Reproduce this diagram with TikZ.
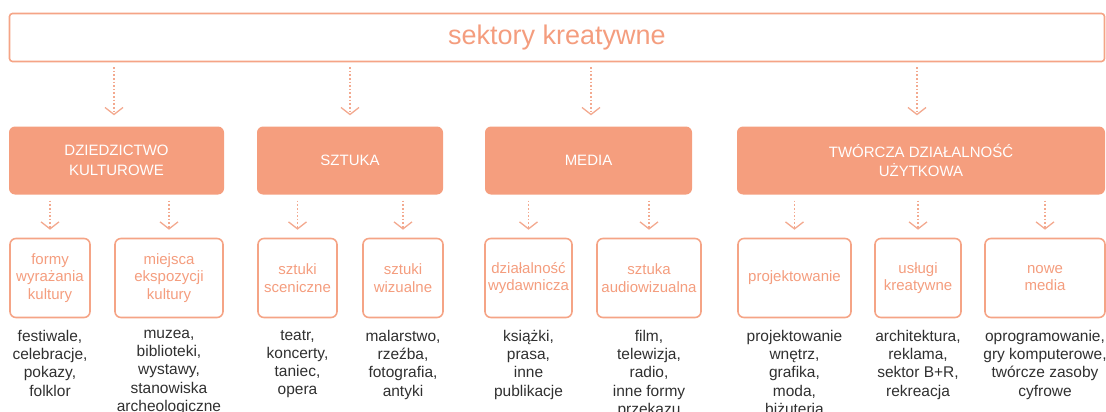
\documentclass[tikz,border=0pt]{standalone}
\usepackage{fontspec}
\setmainfont{Liberation Sans}
\usetikzlibrary{arrows.meta}
\definecolor{salm}{HTML}{F5A486}
\definecolor{salmfill}{HTML}{F59E7E}
\definecolor{salmtext}{HTML}{F49D7E}
\definecolor{arrcol}{HTML}{F3A98F}
\definecolor{desc}{HTML}{303030}
\tikzset{
  topbox/.style={draw=salm, line width=1.6pt, rounded corners=3pt, minimum height=48pt, inner sep=0pt},
  headbox/.style={fill=salmfill, draw=none, rounded corners=6pt, minimum height=68pt, inner sep=0pt, text=white, align=center, font=\fontsize{15}{19.5}\selectfont},
  subbox/.style={draw=salm, line width=1.6pt, rounded corners=6pt, minimum height=79pt, inner sep=0pt, text=salmtext, align=center, font=\fontsize{15}{17.5}\selectfont},
  desctext/.style={anchor=north, inner sep=0pt, align=center, text=desc, font=\fontsize{15.5}{18.3}\selectfont, execute at begin node=\strut},
  arr/.style={draw=arrcol, line width=1.6pt, dash pattern=on 1.6pt off 2pt, -{Straight Barb[length=7pt,width=18pt,line width=1.3pt]}}
}
\begin{document}
\begin{tikzpicture}[x=1pt,y=-1pt]
\useasboundingbox (0,0) rectangle (1106,412);
% top
\node[topbox, minimum width=1095pt, text=salmtext, font=\fontsize{27}{30}\selectfont] (top) at (557,37.5) {sektory kreatywne};
% headers
\node[headbox, minimum width=215pt] (h1) at (116.5,160.5) {DZIEDZICTWO\\KULTUROWE};
\node[headbox, minimum width=186pt] (h2) at (350,160.5) {SZTUKA};
\node[headbox, minimum width=207pt] (h3) at (588.5,160.5) {MEDIA};
\node[headbox, minimum width=368pt] (h4) at (921,160.5) {TWÓRCZA DZIAŁALNOŚĆ\\UŻYTKOWA};
% top arrows
\coordinate (a1) at (114,0);
\coordinate (a2) at (350,0);
\coordinate (a3) at (591,0);
\coordinate (a4) at (917,0);
\foreach \i in {1,2,3,4}{
  \draw[arr] ([yshift=-5pt]top.south -| a\i) -- ([yshift=11pt]h\i.north -| a\i);
}
% sub boxes
\node[subbox, minimum width=80pt] (s1) at (50,278) {formy\\wyrażania\\kultury};
\node[subbox, minimum width=108pt] (s2) at (169,278) {miejsca\\ekspozycji\\kultury};
\node[subbox, minimum width=79pt] (s3) at (297.5,278) {sztuki\\sceniczne};
\node[subbox, minimum width=80pt] (s4) at (403,278) {sztuki\\wizualne};
\node[subbox, minimum width=87pt] (s5) at (528.5,278) {działalność\\wydawnicza};
\node[subbox, minimum width=104pt] (s6) at (649,278) {sztuka\\audiowizualna};
\node[subbox, minimum width=113pt] (s7) at (794.5,278) {projektowanie};
\node[subbox, minimum width=86pt] (s8) at (918,278) {usługi\\kreatywne};
\node[subbox, minimum width=120pt] (s9) at (1045,278) {nowe\\media};
% sub arrows
\draw[arr] (h1.south -| s1) ++(0,6) -- ([yshift=8pt]s1.north);
\draw[arr] (h1.south -| s2) ++(0,6) -- ([yshift=8pt]s2.north);
\draw[arr] (h2.south -| s3) ++(0,6) -- ([yshift=8pt]s3.north);
\draw[arr] (h2.south -| s4) ++(0,6) -- ([yshift=8pt]s4.north);
\draw[arr] (h3.south -| s5) ++(0,6) -- ([yshift=8pt]s5.north);
\draw[arr] (h3.south -| s6) ++(0,6) -- ([yshift=8pt]s6.north);
\draw[arr] (h4.south -| s7) ++(0,6) -- ([yshift=8pt]s7.north);
\draw[arr] (h4.south -| s8) ++(0,6) -- ([yshift=8pt]s8.north);
\draw[arr] (h4.south -| s9) ++(0,6) -- ([yshift=8pt]s9.north);
% descriptions
\node[desctext] (d1) at ([yshift=-11.5pt]s1.south) {festiwale,\\celebracje,\\pokazy,\\folklor};
\node[desctext] (d2) at ([yshift=-11.5pt]s2.south) {muzea,\\biblioteki,\\wystawy,\\stanowiska\\archeologiczne};
\node[desctext] (d3) at ([yshift=-11.5pt]s3.south) {teatr,\\koncerty,\\taniec,\\opera};
\node[desctext] (d4) at ([yshift=-11.5pt]s4.south) {malarstwo,\\rzeźba,\\fotografia,\\antyki};
\node[desctext] (d5) at ([yshift=-11.5pt]s5.south) {książki,\\prasa,\\inne\\publikacje};
\node[desctext] (d6) at ([yshift=-11.5pt]s6.south) {film,\\telewizja,\\radio,\\inne formy\\przekazu};
\node[desctext] (d7) at ([yshift=-11.5pt]s7.south) {projektowanie\\wnętrz,\\grafika,\\moda,\\biżuteria};
\node[desctext] (d8) at ([yshift=-11.5pt]s8.south) {architektura,\\reklama,\\sektor B+R,\\rekreacja};
\node[desctext] (d9) at ([yshift=-11.5pt]s9.south) {oprogramowanie,\\gry komputerowe,\\twórcze zasoby\\cyfrowe};
\end{tikzpicture}
\end{document}
